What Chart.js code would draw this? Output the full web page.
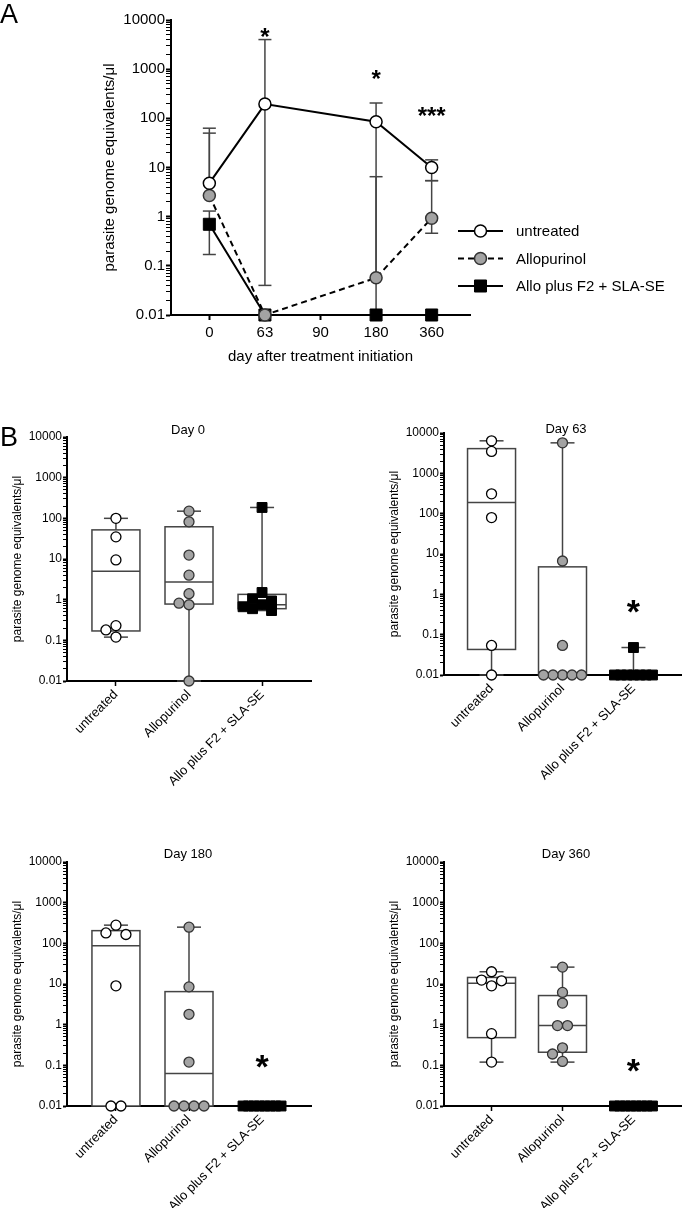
<!DOCTYPE html>
<html>
<head>
<meta charset="utf-8">
<title>Parasite load after treatment</title>
<script src="https://cdn.jsdelivr.net/npm/chart.js@4.4.1/dist/chart.umd.min.js"></script>
<style>
  html, body { margin: 0; padding: 0; background: #fff; }
  #page { position: relative; width: 689px; height: 1208px; overflow: hidden;
          font-family: "Liberation Sans", Arial, Helvetica, sans-serif; color: #000; }
  #page canvas { position: absolute; }
  .txt { position: absolute; line-height: 1; white-space: nowrap; }
  .letter { font-size: 27px; }
  .day { font-size: 13px; transform: translateX(-50%); }
</style>
</head>
<body>
<div id="page">
  <canvas id="chartA" width="689" height="380" style="left:0px;top:0px"></canvas>
  <canvas id="day0" width="330" height="380" style="left:0px;top:420px"></canvas>
  <canvas id="day63" width="312" height="380" style="left:377px;top:420px"></canvas>
  <canvas id="day180" width="330" height="363" style="left:0px;top:845px"></canvas>
  <canvas id="day360" width="312" height="363" style="left:377px;top:845px"></canvas>
  <div class="txt letter" style="left:0px;top:1px">A</div>
  <div class="txt letter" style="left:0px;top:424px">B</div>
  <div class="txt day" style="left:188px;top:423px">Day 0</div>
  <div class="txt day" style="left:566px;top:422px">Day 63</div>
  <div class="txt day" style="left:188px;top:847px">Day 180</div>
  <div class="txt day" style="left:566px;top:847px">Day 360</div>
</div>
<script>
// Panel A: group values per time point, with error bar ends
const days = ['0', '63', '90', '180', '360'];
const untreatedMean = [4.8, 195, null, 85, 10];
const untreatedLow  = [null, 0.04, null, 0.01, 5.4];
const untreatedHigh = [63, 4000, null, 205, 14.3];
const alloMean = [2.7, 0.01, null, 0.057, 0.93];
const alloLow  = [null, null, null, null, 0.46];
const alloHigh = [50, null, null, 6.5, 5.4];
const alloPlusMean = [0.7, 0.01, null, 0.01, 0.01];
const alloPlusLow  = [0.17, null, null, null, null];
const alloPlusHigh = [1.3, null, null, null, null];
const sigA = ['', '*', '', '*', '***'];
const sigAAt = [null, 5200, null, 720, 130];

// Panel B: single animals; boxes are [min, q1, median, q3, max]
const groups = ['untreated', 'Allopurinol', 'Allo plus F2 + SLA-SE'];
const yTickLabels = ['0.01', '0.1', '1', '10', '100', '1000', '10000'];

const day0Untreated = [100, 35, 9.5, 0.23, 0.18, 0.12];
const day0Allo = [150, 82, 12.5, 4.0, 1.4, 0.82, 0.75, 0.01];
const day0AlloPlus = [185, 1.5, 1.05, 0.93, 0.75, 0.67, 0.6, 0.54];
const day0Box = [[0.12, 0.17, 5.0, 52, 100], [0.01, 0.78, 2.7, 62, 150], [0.54, 0.6, 0.75, 1.35, 185]];
const day0Sig = ['', '', ''];
const day0SigAt = [null, null, null];

const day63Untreated = [6400, 3500, 310, 80, 0.054, 0.01];
const day63Allo = [5700, 6.7, 0.054, 0.01, 0.01, 0.01, 0.01, 0.01];
const day63AlloPlus = [0.048, 0.01, 0.01, 0.01, 0.01, 0.01, 0.01, 0.01];
const day63Box = [[0.01, 0.043, 190, 4100, 6400], [0.01, 0.01, 0.01, 4.8, 5700], [0.01, 0.01, 0.01, 0.01, 0.048]];
const day63Sig = ['', '', '*'];
const day63SigAt = [null, null, 0.47];

const day180Untreated = [280, 180, 165, 9, 0.01, 0.01];
const day180Allo = [250, 8.5, 1.8, 0.12, 0.01, 0.01, 0.01, 0.01];
const day180AlloPlus = [0.01, 0.01, 0.01, 0.01, 0.01, 0.01, 0.01, 0.01];
const day180Box = [[0.01, 0.01, 87, 205, 280], [0.01, 0.01, 0.063, 6.5, 250], [0.01, 0.01, 0.01, 0.01, 0.01]];
const day180Sig = ['', '', '*'];
const day180SigAt = [null, null, 0.117];

const day360Untreated = [20, 12.5, 12, 9, 0.6, 0.12];
const day360Allo = [26, 6.2, 3.4, 0.95, 0.95, 0.27, 0.19, 0.125];
const day360AlloPlus = [0.01, 0.01, 0.01, 0.01, 0.01, 0.01, 0.01, 0.01];
const day360Box = [[0.12, 0.48, 10.5, 14.5, 20], [0.12, 0.21, 0.95, 5.2, 26], [0.01, 0.01, 0.01, 0.01, 0.01]];
const day360Sig = ['', '', '*'];
const day360SigAt = [null, null, 0.093];

Chart.defaults.font.family = '"Liberation Sans", Arial, Helvetica, sans-serif';
Chart.defaults.color = '#000';
const FONT = Chart.defaults.font.family;

function isDecade(v) {
    const l = Math.log10(v);
    return Math.abs(l - Math.round(l)) < 1e-6;
}

function logTickValues() {
    const out = [];
    for (let e = -2; e <= 4; e++) {
        out.push(Math.pow(10, e));
        if (e < 4) {
            for (let k = 2; k <= 9; k++) out.push(Number((k * Math.pow(10, e)).toPrecision(3)));
        }
    }
    return out;
}

// shared log y axis (GraphPad style: decade labels, dense minor ticks)
function logAxis(fontSize, width, titlePad, tickLen) {
    return {
        type: 'logarithmic', min: 0.01, max: 10000,
        afterBuildTicks: s => { s.ticks = logTickValues().map(v => ({ value: v })); },
        afterFit: s => { s.width = width; },
        ticks: {
            autoSkip: false, padding: 1, font: { size: fontSize },
            callback: v => isDecade(v) ? yTickLabels[Math.round(Math.log10(v)) + 2] : ''
        },
        grid: {
            drawOnChartArea: false, tickLength: tickLen, tickColor: '#000',
            tickWidth: c => (c.tick && isDecade(c.tick.value)) ? 2 : 1
        },
        border: { color: '#000', width: 2 },
        title: {
            display: true, text: 'parasite genome equivalents/μl',
            font: { size: fontSize }, padding: { top: titlePad, bottom: 0 }
        }
    };
}

function drawStar(ctx, text, x, yMid, size) {
    ctx.font = 'bold ' + size + 'px ' + FONT;
    ctx.fillStyle = '#000';
    ctx.textAlign = 'center';
    ctx.textBaseline = 'alphabetic';
    ctx.fillText(text, x, yMid + 0.45 * size);
}

function segment(ctx, x1, y1, x2, y2) {
    ctx.beginPath();
    ctx.moveTo(x1, y1);
    ctx.lineTo(x2, y2);
    ctx.stroke();
}

// ---------- Panel A ----------
const errorSets = [
    { mean: untreatedMean, low: untreatedLow, high: untreatedHigh },
    { mean: alloMean, low: alloLow, high: alloHigh },
    { mean: alloPlusMean, low: alloPlusLow, high: alloPlusHigh }
];

const panelAPlugin = {
    id: 'panelA',
    beforeDatasetsDraw(chart) {
        const { ctx, scales: { x, y } } = chart;
        ctx.save();
        ctx.strokeStyle = '#444';
        ctx.lineWidth = 1.5;
        errorSets.forEach(es => {
            es.mean.forEach((m, i) => {
                if (m == null) return;
                const cx = x.getPixelForValue(i);
                const cy = y.getPixelForValue(m);
                [es.high[i], es.low[i]].forEach(v => {
                    if (v == null) return;
                    const py = y.getPixelForValue(v);
                    segment(ctx, cx, cy, cx, py);
                    segment(ctx, cx - 6.5, py, cx + 6.5, py);
                });
            });
        });
        ctx.restore();
    },
    afterDraw(chart) {
        const { ctx, scales: { x, y } } = chart;
        ctx.save();
        sigA.forEach((s, i) => {
            if (s) drawStar(ctx, s, x.getPixelForValue(i), y.getPixelForValue(sigAAt[i]), 24);
        });
        // legend
        chart.data.datasets.forEach((ds, i) => {
            const ly = 231 + i * 27.5;
            ctx.strokeStyle = '#000';
            ctx.lineWidth = 2;
            ctx.setLineDash(ds.borderDash || []);
            segment(ctx, 458, ly, 503, ly);
            ctx.setLineDash([]);
            ctx.fillStyle = ds.pointBackgroundColor;
            ctx.strokeStyle = ds.pointBorderColor;
            ctx.lineWidth = ds.pointBorderWidth;
            Chart.helpers.drawPoint(ctx, {
                pointStyle: ds.pointStyle, radius: ds.pointRadius,
                borderWidth: ds.pointBorderWidth, rotation: 0
            }, 480.5, ly);
            ctx.fillStyle = '#000';
            ctx.font = '15px ' + FONT;
            ctx.textAlign = 'left';
            ctx.textBaseline = 'middle';
            ctx.fillText(ds.label, 516, ly + 1);
        });
        ctx.restore();
    }
};

const series = arr => arr.map((v, i) => ({ x: i, y: v }));

new Chart(document.getElementById('chartA'), {
    type: 'line',
    data: {
        datasets: [{
            label: groups[0], data: series(untreatedMean),
            borderColor: '#000', borderWidth: 2, spanGaps: true, clip: false,
            pointStyle: 'circle', pointRadius: 6,
            pointBackgroundColor: '#fff', pointBorderColor: '#000', pointBorderWidth: 1.5
        }, {
            label: groups[1], data: series(alloMean),
            borderColor: '#000', borderWidth: 2, borderDash: [6, 4], spanGaps: true, clip: false,
            pointStyle: 'circle', pointRadius: 6,
            pointBackgroundColor: '#a3a3a3', pointBorderColor: '#333', pointBorderWidth: 1.5
        }, {
            label: groups[2], data: series(alloPlusMean),
            borderColor: '#000', borderWidth: 2, spanGaps: true, clip: false,
            pointStyle: 'rect', pointRadius: 8.5,
            pointBackgroundColor: '#000', pointBorderColor: '#000', pointBorderWidth: 1
        }]
    },
    options: {
        responsive: false, animation: false, events: [],
        layout: { padding: { top: 20, right: 219, left: 0, bottom: 0 } },
        plugins: { legend: { display: false }, tooltip: { enabled: false } },
        scales: {
            x: {
                type: 'linear', min: -0.69, max: 4.69,
                afterBuildTicks: s => { s.ticks = days.map((d, i) => ({ value: i })); },
                afterFit: s => { s.height = 65; },
                ticks: { autoSkip: false, maxRotation: 0, padding: 4, font: { size: 15 }, callback: v => days[v] },
                grid: { drawOnChartArea: false, tickLength: 5, tickWidth: 2, tickColor: '#000' },
                border: { color: '#000', width: 2 },
                title: { display: true, text: 'day after treatment initiation', font: { size: 15 }, padding: { top: 0, bottom: 14 } }
            },
            y: logAxis(15, 171, 101, 5)
        }
    },
    plugins: [panelAPlugin]
});

// ---------- Panel B ----------
const groupStyle = [
    { pointStyle: 'circle', pointRadius: 5, pointBackgroundColor: '#fff', pointBorderColor: '#000', pointBorderWidth: 1.3 },
    { pointStyle: 'circle', pointRadius: 5, pointBackgroundColor: '#a3a3a3', pointBorderColor: '#333', pointBorderWidth: 1.3 },
    { pointStyle: 'rect', pointRadius: 7, pointBackgroundColor: '#000', pointBorderColor: '#000', pointBorderWidth: 1 }
];

function boxPlugin(boxes, sig, sigAt) {
    return {
        id: 'boxes',
        beforeDatasetsDraw(chart) {
            const { ctx, scales: { x, y } } = chart;
            ctx.save();
            ctx.strokeStyle = '#444';
            ctx.lineWidth = 1.5;
            boxes.forEach((b, i) => {
                const cx = x.getPixelForValue(i);
                const [mn, q1, md, q3, mx] = b.map(v => y.getPixelForValue(v));
                segment(ctx, cx, q3, cx, mx);
                segment(ctx, cx, q1, cx, mn);
                segment(ctx, cx - 12, mx, cx + 12, mx);
                segment(ctx, cx - 12, mn, cx + 12, mn);
                ctx.fillStyle = '#fff';
                ctx.fillRect(cx - 24, q3, 48, q1 - q3);
                ctx.strokeRect(cx - 24, q3, 48, q1 - q3);
                segment(ctx, cx - 24, md, cx + 24, md);
            });
            ctx.restore();
        },
        afterDatasetsDraw(chart) {
            const { ctx, scales: { x, y } } = chart;
            ctx.save();
            sig.forEach((s, i) => {
                if (s) drawStar(ctx, s, x.getPixelForValue(i), y.getPixelForValue(sigAt[i]), 34);
            });
            ctx.restore();
        }
    };
}

// spread overlapping points sideways (simple beeswarm in pixel space)
function spreadPoints(chart, radius, maxHalf) {
    const xs = chart.scales.x, ys = chart.scales.y;
    const unit = xs.getPixelForValue(1) - xs.getPixelForValue(0);
    const d = radius * 2;
    chart.data.datasets.forEach((ds, gi) => {
        const pts = ds.data.map(p => ({ p, py: ys.getPixelForValue(p.y), off: 0 }));
        const placed = [];
        pts.slice().sort((a, b) => a.py - b.py).forEach(q => {
            for (let k = 0; k < 41; k++) {
                const off = (k % 2 ? -1 : 1) * Math.ceil(k / 2) * d;
                if (!placed.some(o => Math.hypot(o.off - off, o.py - q.py) < d - 0.5)) {
                    q.off = off;
                    break;
                }
            }
            placed.push(q);
        });
        const rows = {};
        pts.forEach(q => (rows[q.p.y] = rows[q.p.y] || []).push(q));
        Object.values(rows).forEach(row => {
            if (row.length < 2) return;
            const mean = row.reduce((s, q) => s + q.off, 0) / row.length;
            row.forEach(q => { q.off -= mean; });
        });
        const widest = Math.max(...pts.map(q => Math.abs(q.off)));
        const f = widest > maxHalf ? maxHalf / widest : 1;
        pts.forEach(q => { q.p.x = gi + q.off * f / unit; });
    });
    chart.update('none');
}

function boxChart(id, values, boxes, sig, sigAt, plotTop, axisHeight, rightPad) {
    const chart = new Chart(document.getElementById(id), {
        type: 'scatter',
        data: {
            datasets: values.map((vals, gi) => Object.assign({
                label: groups[gi], clip: false,
                data: vals.map(v => ({ x: gi, y: v }))
            }, groupStyle[gi]))
        },
        options: {
            responsive: false, animation: false, events: [],
            layout: { padding: { top: plotTop, right: rightPad, left: 0, bottom: 0 } },
            plugins: { legend: { display: false }, tooltip: { enabled: false } },
            scales: {
                x: {
                    type: 'linear', min: -0.67, max: 2.67,
                    afterBuildTicks: s => { s.ticks = groups.map((g, i) => ({ value: i })); },
                    afterFit: s => { s.height = axisHeight; },
                    ticks: { autoSkip: false, minRotation: 45, maxRotation: 45, padding: 1, font: { size: 13 }, callback: v => groups[v] },
                    grid: { drawOnChartArea: false, tickLength: 5, tickWidth: 1.5, tickColor: '#000' },
                    border: { color: '#000', width: 2 }
                },
                y: logAxis(12, 67, 10, 4)
            }
        },
        plugins: [boxPlugin(boxes, sig, sigAt)]
    });
    spreadPoints(chart, 5, 19);
    return chart;
}

boxChart('day0', [day0Untreated, day0Allo, day0AlloPlus], day0Box, day0Sig, day0SigAt, 17, 119, 19);
boxChart('day63', [day63Untreated, day63Allo, day63AlloPlus], day63Box, day63Sig, day63SigAt, 13, 125, 0);
boxChart('day180', [day180Untreated, day180Allo, day180AlloPlus], day180Box, day180Sig, day180SigAt, 17, 102, 19);
boxChart('day360', [day360Untreated, day360Allo, day360AlloPlus], day360Box, day360Sig, day360SigAt, 17, 102, 0);
</script>
</body>
</html>
